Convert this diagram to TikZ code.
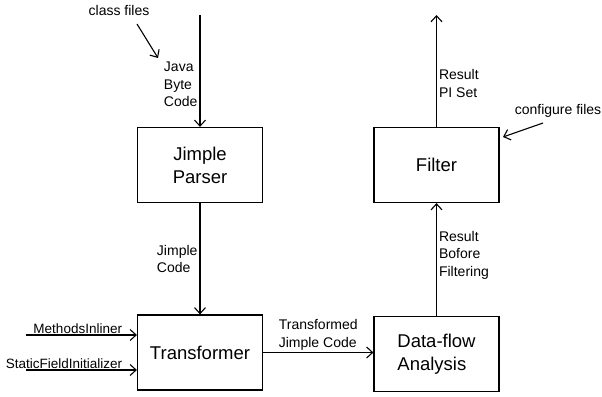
\documentclass[tikz,border=0pt]{standalone}
\usepackage{fontspec}
\setmainfont{Liberation Sans}
\usetikzlibrary{arrows.meta}

\begin{document}
\begin{tikzpicture}[x=1pt,y=-1pt,
  every node/.style={font=\fontsize{14}{17.5}\selectfont,inner sep=2pt,align=left},
  stage/.style={draw,line width=1.2pt,minimum width=125pt,minimum height=75pt,align=center,font=\fontsize{18.5}{23}\selectfont},
  flow/.style={line width=1.1pt,-{Straight Barb[length=6pt,width=11pt]}},
  pass/.style={font=\fontsize{13.5}{16}\selectfont,inner sep=1pt,anchor=south east}]
  \useasboundingbox (0,0) rectangle (602,396);

  % the four stages
  \node[stage] (parser) at (200,165) {Jimple\\Parser};
  \node[stage] (transformer) at (200,352.5) {Transformer};
  \node[stage,align=left] (dataflow) at (436.5,354) {Data-flow\\Analysis};
  \node[stage] (filter) at (436.5,165) {Filter};

  % free ends
  \coordinate (javain) at (200,15);
  \coordinate (piout) at (436.5,15);
  \coordinate (inlinerin) at (26,335);
  \coordinate (staticin) at (26,370);
  \coordinate (classtail) at (137,24);
  \coordinate (classtip) at (158,58);
  \coordinate (conftail) at (543,123);
  \coordinate (conftip) at (503,137);

  \node (classfiles) at (119,10) {class files};
  \node (configfiles) at (558,111) {configure files};

  % main flow
  \draw[flow] (javain) -- node[pos=0.62,left] {Java\\Byte\\Code} (parser);
  \draw[flow] (parser) -- node[left] {Jimple\\Code} (transformer);
  \draw[flow] (transformer.east) -- node[above] {Transformed\\Jimple Code} (transformer.east -| dataflow.west);
  \draw[flow] (dataflow) -- node[pos=0.54,right] {Result\\Bofore\\Filtering} (filter);
  \draw[flow] (filter) -- node[pos=0.39,right] {Result\\PI Set} (piout);

  % side inputs
  \draw[flow] (inlinerin) -- node[pass,pos=0.88] {MethodsInliner} (inlinerin -| transformer.west);
  \draw[flow] (staticin) -- node[pass,pos=0.88] {StaticFieldInitializer} (staticin -| transformer.west);
  \draw[flow] (classtail) -- (classtip);
  \draw[flow] (conftail) -- (conftip);
\end{tikzpicture}
\end{document}
